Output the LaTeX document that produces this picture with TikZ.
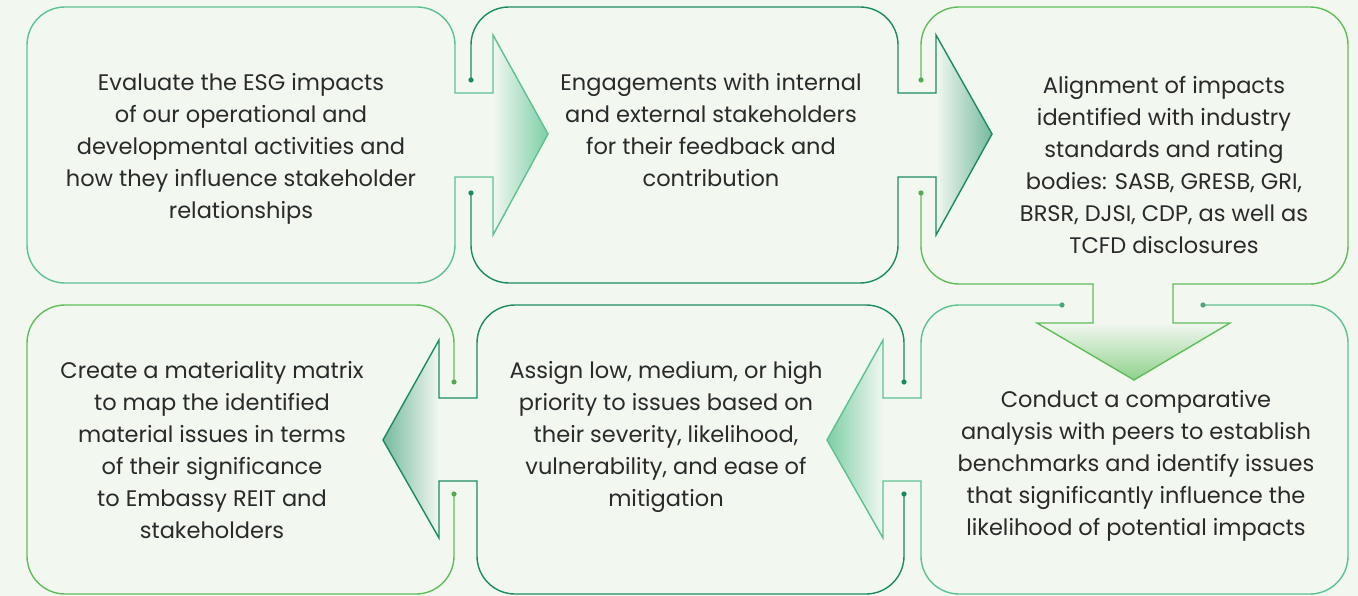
\documentclass[tikz,border=0pt]{standalone}
\usepackage{fontspec}
\setmainfont{Poppins}
\usepackage{xcolor}
\usetikzlibrary{calc,positioning}
\definecolor{bgpaper}{HTML}{F2F7F0}
\definecolor{mintgreen}{HTML}{5CC290}
\definecolor{darkgreen}{HTML}{1A8C5F}
\definecolor{leafgreen}{HTML}{5FBE5A}
\definecolor{inktext}{HTML}{2A2A2A}

\begin{document}
\begin{tikzpicture}[x=1pt,y=-1pt,
    boxline/.style={line width=1.4pt, line join=miter},
    steptext/.style={align=center, text=inktext, inner sep=0pt,
      font=\fontsize{22.5}{32}\selectfont}]
  % page
  \fill [bgpaper] (0,0) rectangle (1358,596);
  \useasboundingbox (0,0) rectangle (1358,596);

  % Filling arrow heads
  \shade [left color=bgpaper, right color=mintgreen!80] (493,35) -- (548,134) -- (493,235) -- cycle;
  \shade [left color=bgpaper, right color=darkgreen!60] (936,35) -- (992,134) -- (936,235) -- cycle;
  \shade [top color=bgpaper, bottom color=leafgreen!70] (1037,323) -- (1230,323) -- (1134,380) -- cycle;
  \shade [right color=bgpaper, left color=mintgreen!80] (883,340) -- (827,440) -- (883,538) -- cycle;
  \shade [right color=bgpaper, left color=darkgreen!60] (439,340) -- (383,440) -- (439,538) -- cycle;

  % Drawing box 1 with arrow to the right
  \draw [boxline, mintgreen] (65,7) -- (417,7) arc[start angle=270, end angle=360, radius=38]
    -- (455,93) -- (493,93) -- (493,35) -- (548,134) -- (493,235) -- (493,177) -- (455,177)
    -- (455,245) arc[start angle=0, end angle=90, radius=38]
    -- (65,283) arc[start angle=90, end angle=180, radius=38]
    -- (27,45) arc[start angle=180, end angle=270, radius=38] -- cycle;

  % Drawing box 2 with arrow to the right
  \draw [boxline, darkgreen] (471,80) -- (471,45) arc[start angle=180, end angle=270, radius=38]
    -- (860,7) arc[start angle=270, end angle=360, radius=38]
    -- (898,93) -- (936,93) -- (936,35) -- (992,134) -- (936,235) -- (936,177) -- (898,177)
    -- (898,245) arc[start angle=0, end angle=90, radius=38]
    -- (509,283) arc[start angle=90, end angle=180, radius=38] -- (471,193);
  \fill [darkgreen] (471,80) circle (2.6) (471,193) circle (2.6);

  % Drawing box 3 with arrow downwards
  \draw [boxline, leafgreen] (921,80) -- (921,45) arc[start angle=180, end angle=270, radius=38]
    -- (1310,7) arc[start angle=270, end angle=360, radius=38]
    -- (1348,246) arc[start angle=0, end angle=90, radius=38]
    -- (1173,284) -- (1173,323) -- (1230,323) -- (1134,380) -- (1037,323) -- (1093,323) -- (1093,284)
    -- (959,284) arc[start angle=90, end angle=180, radius=38] -- (921,193);
  \fill [leafgreen!90!black] (921,80) circle (2.6) (921,193) circle (2.6);

  % Drawing box 4 with arrow to the left
  \draw [boxline, mintgreen] (1203,305) -- (1310,305) arc[start angle=270, end angle=360, radius=38]
    -- (1348,556) arc[start angle=0, end angle=90, radius=38]
    -- (959,594) arc[start angle=90, end angle=180, radius=38]
    -- (921,481) -- (883,481) -- (883,538) -- (827,440) -- (883,340) -- (883,398) -- (921,398)
    -- (921,343) arc[start angle=180, end angle=270, radius=38] -- (1062,305);
  \fill [mintgreen!85!black] (1203,305) circle (2.6) (1062,305) circle (2.6);

  % Drawing box 5 with arrow to the left
  \draw [boxline, darkgreen] (904,382) -- (904,343) arc[start angle=0, end angle=-90, radius=38]
    -- (515,305) arc[start angle=270, end angle=180, radius=38]
    -- (477,398) -- (439,398) -- (439,340) -- (383,440) -- (439,538) -- (439,481) -- (477,481)
    -- (477,556) arc[start angle=180, end angle=90, radius=38]
    -- (866,594) arc[start angle=90, end angle=0, radius=38] -- (904,494);
  \fill [darkgreen] (904,382) circle (2.6) (904,494) circle (2.6);

  % Drawing box 6
  \draw [boxline, leafgreen] (454,382) -- (454,343) arc[start angle=0, end angle=-90, radius=38]
    -- (65,305) arc[start angle=270, end angle=180, radius=38]
    -- (27,556) arc[start angle=180, end angle=90, radius=38]
    -- (416,594) arc[start angle=90, end angle=0, radius=38] -- (454,494);
  \fill [leafgreen!90!black] (454,382) circle (2.6) (454,494) circle (2.6);

  % Marking step texts
  \node [steptext] (evaluate) at (241,149) {Evaluate the ESG impacts\\ of our operational and\\ developmental activities and\\ how they influence stakeholder\\ relationships};
  \node [steptext] (engage) at (711,130) {Engagements with internal\\ and external stakeholders\\ for their feedback and\\ contribution};
  \node [steptext] (align) at (1164,165) {Alignment of impacts\\ identified with industry\\ standards and rating\\ bodies: SASB, GRESB, GRI,\\ BRSR, DJSI, CDP, as well as\\ TCFD disclosures};
  \node [steptext] (compare) at (1136,466) {Conduct a comparative\\ analysis with peers to establish\\ benchmarks and identify issues\\ that significantly influence the\\ likelihood of potential impacts};
  \node [steptext] (assign) at (666,437) {Assign low, medium, or high\\ priority to issues based on\\ their severity, likelihood,\\ vulnerability, and ease of\\ mitigation};
  \node [steptext] (matrix) at (212,450) {Create a materiality matrix\\ to map the identified\\ material issues in terms\\ of their significance\\ to Embassy REIT and\\ stakeholders};
\end{tikzpicture}
\end{document}
